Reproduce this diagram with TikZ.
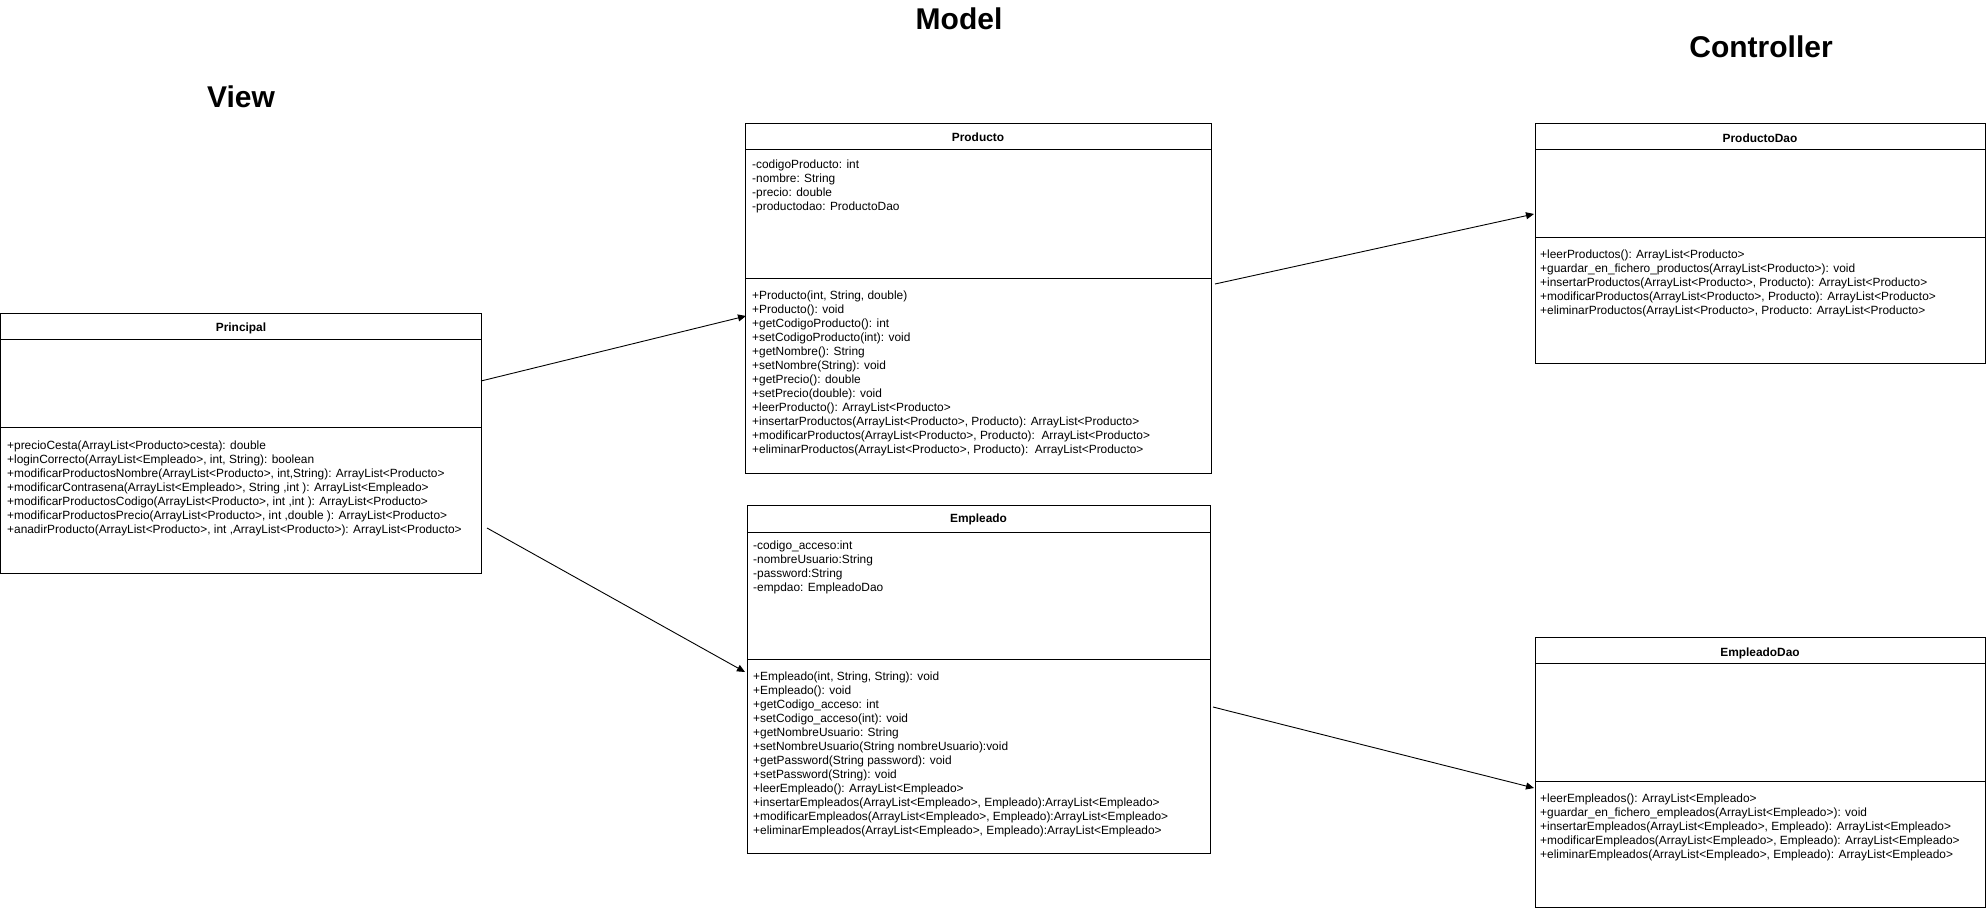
\documentclass[tikz,border=0pt]{standalone}
\usepackage{fontspec}
\setmainfont{Liberation Sans}
\usetikzlibrary{arrows.meta}
\begin{document}
\begin{tikzpicture}[x=1pt,y=-1pt,
  classbox/.style={draw=black, line width=1pt, anchor=north west, inner sep=0pt, outer sep=0pt},
  divider/.style={draw=black, line width=1pt},
  body/.style={anchor=north west, inner sep=0pt, align=left, font=\fontsize{11.9}{14}\selectfont},
  head/.style={anchor=base, inner sep=0pt, font=\fontsize{11.9}{14}\selectfont\bfseries},
  title/.style={anchor=base, inner sep=0pt, font=\fontsize{30}{34}\selectfont\bfseries},
  conn/.style={draw=black, line width=0.9pt, -{Triangle[length=8pt,width=7pt]}}]
\useasboundingbox (0,0) rectangle (1986,910);

% titles
\node[title] (tview) at (241,107) {View};
\node[title] (tmodel) at (959,29) {Model};
\node[title] (tctrl) at (1761,57) {Controller};

% Principal
\node[classbox, minimum width=480.5, minimum height=260] (prin) at (0.5,313) {};
\draw[divider] ([yshift=-26pt]prin.north west) -- ([yshift=-26pt]prin.north east);
\draw[divider] ([yshift=-114pt]prin.north west) -- ([yshift=-114pt]prin.north east);
\node[head] (prinh) at (241,331) {Principal};
\node[body] (prinm) at (7,439.2) {\strut+precioCesta(ArrayList<Producto>cesta): double\\
+loginCorrecto(ArrayList<Empleado>, int, String): boolean\\
+modificarProductosNombre(ArrayList<Producto>, int,String): ArrayList<Producto>\\
+modificarContrasena(ArrayList<Empleado>, String ,int ): ArrayList<Empleado>\\
+modificarProductosCodigo(ArrayList<Producto>, int ,int ): ArrayList<Producto>\\
+modificarProductosPrecio(ArrayList<Producto>, int ,double ): ArrayList<Producto>\\
+anadirProducto(ArrayList<Producto>, int ,ArrayList<Producto>): ArrayList<Producto>};

% Producto
\node[classbox, minimum width=466, minimum height=350] (prod) at (745,123) {};
\draw[divider] ([yshift=-26pt]prod.north west) -- ([yshift=-26pt]prod.north east);
\draw[divider] ([yshift=-155pt]prod.north west) -- ([yshift=-155pt]prod.north east);
\node[head] (prodh) at (978,141) {Producto};
\node[body] (proda) at (752,158.2) {\strut-codigoProducto: int\\
-nombre: String\\
-precio: double\\
-productodao: ProductoDao};
\node[body] (prodm) at (752,289.2) {\strut+Producto(int, String, double)\\
+Producto(): void\\
+getCodigoProducto(): int\\
+setCodigoProducto(int): void\\
+getNombre(): String\\
+setNombre(String): void\\
+getPrecio(): double\\
+setPrecio(double): void\\
+leerProducto(): ArrayList<Producto>\\
+insertarProductos(ArrayList<Producto>, Producto): ArrayList<Producto>\\
+modificarProductos(ArrayList<Producto>, Producto):~~ArrayList<Producto>\\
+eliminarProductos(ArrayList<Producto>, Producto):~~ArrayList<Producto>};

% Empleado
\node[classbox, minimum width=463, minimum height=348] (emp) at (747,505) {};
\draw[divider] ([yshift=-27pt]emp.north west) -- ([yshift=-27pt]emp.north east);
\draw[divider] ([yshift=-154pt]emp.north west) -- ([yshift=-154pt]emp.north east);
\node[head] (emph) at (978.5,522) {Empleado};
\node[body] (empa) at (753,539.2) {\strut-codigo\_acceso:int\\
-nombreUsuario:String\\
-password:String\\
-empdao: EmpleadoDao};
\node[body] (empm) at (753,670.2) {\strut+Empleado(int, String, String): void\\
+Empleado(): void\\
+getCodigo\_acceso: int\\
+setCodigo\_acceso(int): void\\
+getNombreUsuario: String\\
+setNombreUsuario(String nombreUsuario):void\\
+getPassword(String password): void\\
+setPassword(String): void\\
+leerEmpleado(): ArrayList<Empleado>\\
+insertarEmpleados(ArrayList<Empleado>, Empleado):ArrayList<Empleado>\\
+modificarEmpleados(ArrayList<Empleado>, Empleado):ArrayList<Empleado>\\
+eliminarEmpleados(ArrayList<Empleado>, Empleado):ArrayList<Empleado>};

% ProductoDao
\node[classbox, minimum width=450.5, minimum height=240] (pdao) at (1535,123) {};
\draw[divider] ([yshift=-26pt]pdao.north west) -- ([yshift=-26pt]pdao.north east);
\draw[divider] ([yshift=-114pt]pdao.north west) -- ([yshift=-114pt]pdao.north east);
\node[head] (pdaoh) at (1760,142) {ProductoDao};
\node[body] (pdaom) at (1540,248.7) {\strut+leerProductos(): ArrayList<Producto>\\
+guardar\_en\_fichero\_productos(ArrayList<Producto>): void\\
+insertarProductos(ArrayList<Producto>, Producto): ArrayList<Producto>\\
+modificarProductos(ArrayList<Producto>, Producto): ArrayList<Producto>\\
+eliminarProductos(ArrayList<Producto>, Producto: ArrayList<Producto>};

% EmpleadoDao
\node[classbox, minimum width=450.5, minimum height=270] (edao) at (1535,637) {};
\draw[divider] ([yshift=-26pt]edao.north west) -- ([yshift=-26pt]edao.north east);
\draw[divider] ([yshift=-144pt]edao.north west) -- ([yshift=-144pt]edao.north east);
\node[head] (edaoh) at (1760,656) {EmpleadoDao};
\node[body] (edaom) at (1540,792.7) {\strut+leerEmpleados(): ArrayList<Empleado>\\
+guardar\_en\_fichero\_empleados(ArrayList<Empleado>): void\\
+insertarEmpleados(ArrayList<Empleado>, Empleado): ArrayList<Empleado>\\
+modificarEmpleados(ArrayList<Empleado>, Empleado): ArrayList<Empleado>\\
+eliminarEmpleados(ArrayList<Empleado>, Empleado): ArrayList<Empleado>};

% connector end points
\coordinate (c1s) at (481,381);
\coordinate (c1e) at (746,316);
\coordinate (c2s) at (487,528);
\coordinate (c2e) at (745,672);
\coordinate (c3s) at (1215,284);
\coordinate (c3e) at (1534,214);
\coordinate (c4s) at (1213,707);
\coordinate (c4e) at (1534,788);

\draw[conn] (c1s) -- (c1e);
\draw[conn] (c2s) -- (c2e);
\draw[conn] (c3s) -- (c3e);
\draw[conn] (c4s) -- (c4e);
\end{tikzpicture}
\end{document}
